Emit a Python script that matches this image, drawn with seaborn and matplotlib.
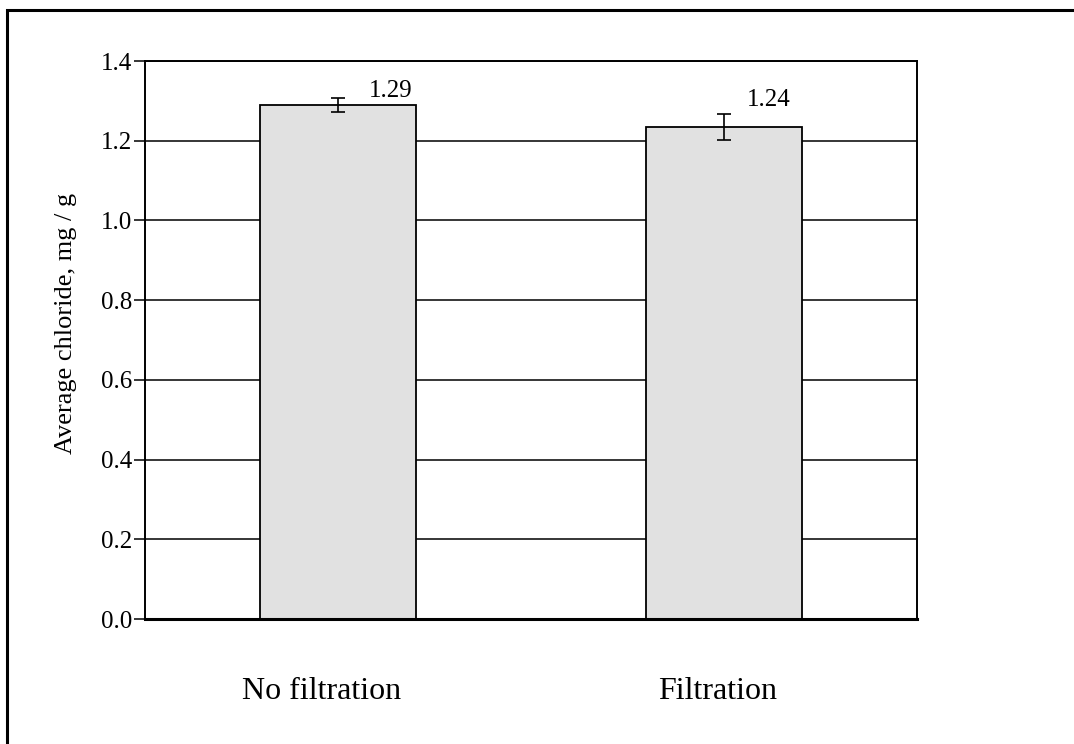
import numpy as np
import pandas as pd
import matplotlib.pyplot as plt
import matplotlib.transforms as mtransforms
from matplotlib.patches import Rectangle
import seaborn as sns

sns.set_theme(style='white')
plt.rcParams['font.family'] = ['Liberation Serif', 'DejaVu Serif']

# values
treatments = ['No filtration', 'Filtration']
chloride = [1.29, 1.235]
chloride_err = [0.018, 0.033]
value_labels = ['1.29', '1.24']
y_ticks = [0.0, 0.2, 0.4, 0.6, 0.8, 1.0, 1.2, 1.4]

data = pd.DataFrame({'Treatment': treatments, 'Chloride': chloride})

fig = plt.figure(figsize=(10.74, 7.44), dpi=100)
ax = fig.add_axes([0.1350, 0.1680, 0.7188, 0.7500])

sns.barplot(data=data, x='Treatment', y='Chloride', ax=ax, errorbar=None,
            color='#e1e1e1', saturation=1, width=0.404,
            edgecolor='black', linewidth=1.3, zorder=3)
ax.errorbar(np.arange(len(treatments)), chloride, yerr=chloride_err,
            fmt='none', ecolor='black', elinewidth=1.2, capsize=5,
            capthick=1.2, zorder=4)

ax.set_xlim(-0.5, 1.5)
ax.set_ylim(0, 1.4)
ax.set_yticks(y_ticks)
ax.set_yticklabels([f'{t:.1f}' for t in y_ticks])
ax.grid(axis='y', color='black', linewidth=1.1, zorder=1)
ax.grid(axis='x', visible=False)
ax.set_axisbelow(True)

for s in ['left', 'top', 'right']:
    ax.spines[s].set_color('black')
    ax.spines[s].set_linewidth(1.4)
ax.spines['bottom'].set_color('black')
ax.spines['bottom'].set_linewidth(2.2)
ax.spines['bottom'].set_zorder(5)

ax.tick_params(axis='y', left=True, length=8, width=1.1, pad=1,
               labelsize=18, colors='black')
ax.tick_params(axis='x', bottom=False, pad=36, labelsize=23, colors='black')
shifts = [-16, -6]
for lab, dx in zip(ax.get_xticklabels(), shifts):
    lab.set_transform(lab.get_transform() +
                      mtransforms.ScaledTranslation(dx / 100, 0, fig.dpi_scale_trans))

ax.set_xlabel('')
ax.set_ylabel('Average chloride, mg / g', fontsize=19, color='black')
ax.yaxis.set_label_coords(-0.088, 0.53)

offsets = [(38, 10), (32, 19.5)]
for i, (v, txt) in enumerate(zip(chloride, value_labels)):
    ax.annotate(txt, xy=(i, v), xytext=offsets[i], textcoords='offset points',
                ha='center', va='center', fontsize=18, color='black')

# outer frame around the figure
fig.patches.append(Rectangle((7 / 1074, -0.1), 1.2, 0.9866 + 0.1,
                             transform=fig.transFigure, fill=False,
                             edgecolor='black', linewidth=2.2, clip_on=False))

fig.savefig('out.png', dpi=100)
